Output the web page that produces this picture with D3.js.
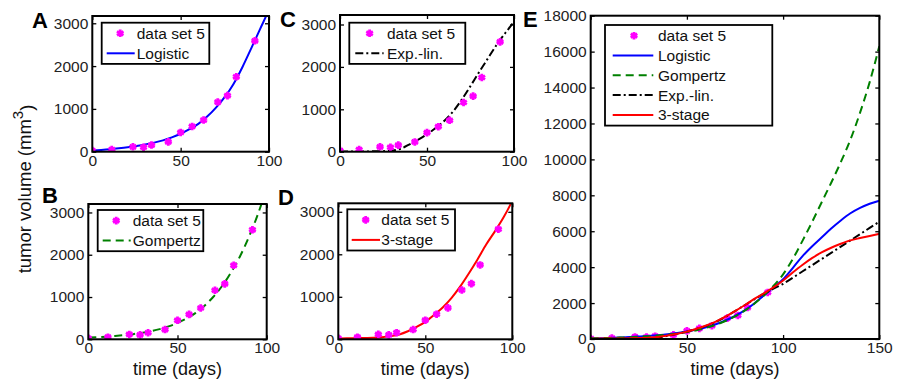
<!DOCTYPE html>
<html>
<head>
<meta charset="utf-8">
<script src="https://cdn.jsdelivr.net/npm/d3@7"></script>
<style>
  body { margin: 0; background: #fff; }
  svg { font-family: "Liberation Sans", Arial, sans-serif; }
  .tick text { fill: #222; font-size: 15.5px; }
  .tick line { stroke: #000; stroke-width: 1.3; }
</style>
</head>
<body>
<script>
// data set 5 (measured tumor volume)
const obsDays = [0, 11, 23, 29, 33.5, 43, 50, 56.5, 63, 71, 76.5, 81.5, 92];
const obsVolume = [25, 50, 115, 105, 155, 230, 450, 590, 740, 1160, 1310, 1750, 2590];

// model curves, every 5 days
const tGrid = [0, 5, 10, 15, 20, 25, 30, 35, 40, 45, 50, 55, 60, 65, 70, 75,
  80, 85, 90, 95, 100, 105, 110, 115, 120, 125, 130, 135, 140, 145, 150];
const logistic = [30, 42, 58, 80, 105, 135, 170, 212, 265, 335, 420, 525, 650, 820, 1030, 1280,
  1590, 1980, 2420, 2870, 3330, 3950, 4600, 5150, 5650, 6150, 6600, 7000, 7300, 7530, 7700];
const gompertz = [40, 50, 62, 78, 98, 122, 152, 190, 240, 305, 385, 490, 620, 790, 1000, 1260,
  1580, 1960, 2420, 2950, 3600, 4450, 5450, 6500, 7600, 8700, 9850, 11100, 12600, 14300, 16300];
const expLin = [5, 5, 6, 7, 9, 13, 25, 70, 175, 285, 410, 560, 730, 950, 1230, 1550,
  1880, 2200, 2520, 2800, 3070, 3410, 3757, 4103, 4450, 4797, 5143, 5490, 5837, 6183, 6530];
const threeStage = [20, 22, 25, 30, 35, 50, 75, 115, 190, 290, 410, 570, 750, 970, 1240, 1550,
  1880, 2230, 2540, 2870, 3260, 3700, 4120, 4500, 4820, 5080, 5300, 5490, 5620, 5740, 5850];

const smallYTicks = [0, 1000, 2000, 3000];
const smallXTicks = [0, 50, 100];
const bigYTicks = [0, 2000, 4000, 6000, 8000, 10000, 12000, 14000, 16000, 18000];
const bigXTicks = [0, 50, 100, 150];

const models = {
  logistic:   {name: "Logistic", values: logistic,   color: "#0000ff", dash: null},
  gompertz:   {name: "Gompertz", values: gompertz,   color: "#008000", dash: "8,5"},
  expLin:     {name: "Exp.-lin.", values: expLin,    color: "#000000", dash: "8,3,2,3"},
  threeStage: {name: "3-stage",  values: threeStage, color: "#ff0000", dash: null}
};

const svg = d3.select("body").append("svg")
  .attr("width", 897)
  .attr("height", 382);

const markerPath = d3.symbol().type(d3.symbolAsterisk || d3.symbolCross).size(40);

function drawMarker(g, x, y) {
  g.append("path")
    .attr("d", markerPath())
    .attr("transform", "translate(" + x + "," + y + ")")
    .attr("fill", "none")
    .attr("stroke", "#ff00ff")
    .attr("stroke-width", 2.8);
}

const panels = [
  {id: "A", box: [92.3, 16, 269, 151.7], yMax: 3170, xMax: 100, yTicks: smallYTicks, xTicks: smallXTicks,
    series: ["logistic"], letter: [32, 28], xlabel: false,
    legend: {x: 101.7, y: 22.7, w: 107.6, line: [5, 33], mark: 18.5, text: 35, first: 10.6, step: 20}},
  {id: "B", box: [88.3, 204, 266.7, 339.3], yMax: 3200, xMax: 100, yTicks: smallYTicks, xTicks: smallXTicks,
    series: ["gompertz"], letter: [42, 203], xlabel: true,
    legend: {x: 97.7, y: 210, w: 105.6, line: [5, 33], mark: 18.5, text: 35, first: 10.6, step: 20}},
  {id: "C", box: [340, 15, 514, 151.7], yMax: 3224, xMax: 100, yTicks: smallYTicks, xTicks: smallXTicks,
    series: ["expLin"], letter: [280, 27], xlabel: false,
    legend: {x: 349.3, y: 22.7, w: 116, line: [6, 34.3], mark: 20.3, text: 37.7, first: 10.6, step: 20}},
  {id: "D", box: [338.3, 203.3, 512.3, 339.3], yMax: 3200, xMax: 100, yTicks: smallYTicks, xTicks: smallXTicks,
    series: ["threeStage"], letter: [278, 205], xlabel: true,
    legend: {x: 347.3, y: 209.3, w: 107.7, line: [4.4, 32.7], mark: 18.4, text: 34, first: 10.6, step: 20}},
  {id: "E", box: [590.7, 15.7, 879.3, 339], yMax: 18000, xMax: 150, yTicks: bigYTicks, xTicks: bigXTicks,
    series: ["logistic", "gompertz", "expLin", "threeStage"], letter: [523, 27], xlabel: true, dataBelow: true,
    legend: {x: 605, y: 25, w: 167.3, line: [7.7, 48.3], mark: 29, text: 53, first: 10.7, step: 19.8}}
];

panels.forEach(function (p) {
  const [left, top, right, bottom] = p.box;
  const x = d3.scaleLinear().domain([0, p.xMax]).range([left, right]);
  const y = d3.scaleLinear().domain([0, p.yMax]).range([bottom, top]);

  const g = svg.append("g").attr("class", "panel-" + p.id);

  g.append("clipPath").attr("id", "clip-" + p.id)
    .append("rect")
    .attr("x", left).attr("y", top)
    .attr("width", right - left).attr("height", bottom - top);

  // axes, ticks point inwards like matlab
  g.append("g")
    .attr("transform", "translate(0," + bottom + ")")
    .call(d3.axisBottom(x).tickValues(p.xTicks).tickSize(-4).tickPadding(3).tickFormat(d3.format("d")))
    .call(a => a.select(".domain").remove());
  g.append("g")
    .attr("transform", "translate(0," + top + ")")
    .call(d3.axisTop(x).tickValues(p.xTicks).tickSize(-4).tickFormat(""))
    .call(a => a.select(".domain").remove());
  g.append("g")
    .attr("transform", "translate(" + left + ",0)")
    .call(d3.axisLeft(y).tickValues(p.yTicks).tickSize(-4).tickPadding(4).tickFormat(d3.format("d")))
    .call(a => a.select(".domain").remove());
  g.append("g")
    .attr("transform", "translate(" + right + ",0)")
    .call(d3.axisRight(y).tickValues(p.yTicks).tickSize(-4).tickFormat(""))
    .call(a => a.select(".domain").remove());

  const plot = g.append("g").attr("clip-path", "url(#clip-" + p.id + ")");

  function drawData() {
    obsDays.forEach(function (d, i) {
      drawMarker(plot, x(d), y(obsVolume[i]));
    });
  }

  if (p.dataBelow) drawData();

  p.series.forEach(function (key) {
    const m = models[key];
    const line = d3.line()
      .x((d, i) => x(tGrid[i]))
      .y(d => y(d))
      .curve(d3.curveMonotoneX);
    plot.append("path")
      .datum(m.values)
      .attr("d", line)
      .attr("fill", "none")
      .attr("stroke", m.color)
      .attr("stroke-width", 2)
      .attr("stroke-dasharray", m.dash);
  });

  if (!p.dataBelow) drawData();

  // plot box
  g.append("rect")
    .attr("x", left).attr("y", top)
    .attr("width", right - left).attr("height", bottom - top)
    .attr("fill", "none")
    .attr("stroke", "#000")
    .attr("stroke-width", 2);

  // legend
  const L = p.legend;
  const rows = [{name: "data set 5", marker: true}].concat(p.series.map(k => models[k]));
  const lg = g.append("g").attr("transform", "translate(" + L.x + "," + L.y + ")");
  const h = L.first * 2 + L.step * (rows.length - 1);
  lg.append("rect")
    .attr("width", L.w).attr("height", h)
    .attr("fill", "#fff").attr("stroke", "#000").attr("stroke-width", 1.8);
  rows.forEach(function (r, i) {
    const cy = L.first + i * L.step;
    if (r.marker) {
      drawMarker(lg, L.mark, cy);
    } else {
      lg.append("line")
        .attr("x1", L.line[0]).attr("x2", L.line[1])
        .attr("y1", cy).attr("y2", cy)
        .attr("stroke", r.color).attr("stroke-width", 2)
        .attr("stroke-dasharray", r.dash);
    }
    lg.append("text")
      .attr("x", L.text).attr("y", cy)
      .attr("dy", "0.36em")
      .attr("font-size", "15.5px")
      .attr("fill", "#111")
      .text(r.name);
  });

  // panel letter
  svg.append("text")
    .attr("x", p.letter[0]).attr("y", p.letter[1])
    .attr("font-size", "22px")
    .attr("font-weight", "bold")
    .text(p.id);

  if (p.xlabel) {
    svg.append("text")
      .attr("x", (left + right) / 2).attr("y", 375)
      .attr("text-anchor", "middle")
      .attr("font-size", "18px")
      .attr("fill", "#111")
      .text("time (days)");
  }
});

// shared y label
const yl = svg.append("text")
  .attr("transform", "translate(31,189) rotate(-90)")
  .attr("text-anchor", "middle")
  .attr("font-size", "18.5px")
  .attr("fill", "#111");
yl.append("tspan").text("tumor volume (mm");
yl.append("tspan").attr("dy", "-0.55em").attr("font-size", "15px").text("3");
yl.append("tspan").attr("dy", "0.55em").text(")");
</script>
</body>
</html>
